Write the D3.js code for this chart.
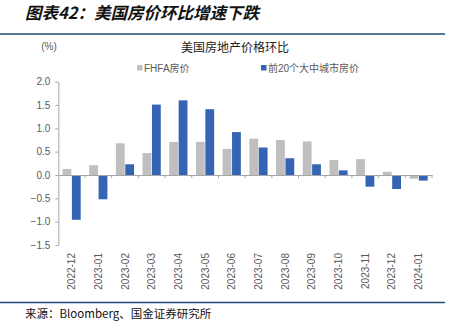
<!DOCTYPE html>
<html><head><meta charset="utf-8">
<script src="https://cdn.jsdelivr.net/npm/d3@7"></script>
<style>
html,body{margin:0;padding:0;background:#fff;}
svg{display:block;}
</style></head>
<body>
<svg id="c" width="458" height="331"></svg>
<script>
const categories = ["2022-12","2023-01","2023-02","2023-03","2023-04","2023-05","2023-06","2023-07","2023-08","2023-09","2023-10","2023-11","2023-12","2024-01"];
const fhfa = [0.13,0.21,0.68,0.47,0.71,0.71,0.56,0.78,0.75,0.72,0.32,0.34,0.07,-0.08];
const city20 = [-0.96,-0.52,0.23,1.51,1.60,1.41,0.92,0.59,0.36,0.23,0.10,-0.25,-0.30,-0.12];
const yTicks = [2.0,1.5,1.0,0.5,0.0,-0.5,-1.0,-1.5];
const seriesNames = ["FHFA房价","前20个大中城市房价"];

const svg = d3.select("#c");
const sansCJK = "'Noto Sans CJK SC', sans-serif";
const colors = ["#bfbfbf","#3564b4"];

// header
svg.append("text").attr("x",25).attr("y",19)
  .attr("font-family",sansCJK).attr("font-size",16.5).attr("font-weight","bold")
  .attr("font-style","italic").attr("fill","#111").text("图表42：美国房价环比增速下跌");
svg.append("line").attr("x1",0).attr("x2",445).attr("y1",34).attr("y2",34)
  .attr("stroke","#1f4e79").attr("stroke-width",1.5);
svg.append("line").attr("x1",0).attr("x2",445).attr("y1",302.5).attr("y2",302.5)
  .attr("stroke","#1f4e79").attr("stroke-width",1.5);
svg.append("text").attr("x",25).attr("y",318)
  .attr("font-family","'Noto Sans CJK SC', monospace").attr("font-size",11.5).attr("fill","#111")
  .text("来源：Bloomberg、国金证券研究所");

// chart title
svg.append("text").attr("x",235).attr("y",52).attr("text-anchor","middle")
  .attr("font-family",sansCJK).attr("font-size",12).attr("fill","#222").text("美国房地产价格环比");
svg.append("text").attr("x",49).attr("y",50).attr("text-anchor","middle")
  .attr("font-family","Arial, 'Liberation Sans', sans-serif").attr("font-size",10).attr("fill","#595959").text("(%)");

// legend
const legX = [137, 261];
seriesNames.forEach((n,i)=>{
  svg.append("rect").attr("x",legX[i]).attr("y",65).attr("width",5.5).attr("height",5.5).attr("fill",colors[i]);
  svg.append("text").attr("x",legX[i]+7).attr("y",71.5)
    .attr("font-family","Arial, 'Liberation Sans', "+sansCJK).attr("font-size",10).attr("fill","#595959").text(n);
});

// scales
const y = d3.scaleLinear().domain([-1.5,2.0]).range([245,81.7]);
const x0 = d3.scaleBand().domain(categories).range([58.3,432]).padding(0);
const x1 = d3.scaleBand().domain([0,1]).range([4.2,22.4]).paddingInner(0.06);

// y axis
const yAxis = d3.axisLeft(y).tickValues(yTicks).tickFormat(d3.format(".1f")).tickSize(3).tickSizeOuter(0);
const gy = svg.append("g").attr("transform","translate(58.3,0)").call(yAxis);
gy.select(".domain").attr("stroke","#a6a6a6");
gy.selectAll(".tick line").attr("stroke","#a6a6a6");
gy.selectAll(".tick text").attr("font-family","Arial, 'Liberation Sans', sans-serif").attr("font-size",10).attr("fill","#595959").attr("x",-8);

// bars
const data = categories.map((c,i)=>({c, v:[fhfa[i], city20[i]]}));
const g = svg.append("g");
data.forEach(d=>{
  d.v.forEach((v,k)=>{
    g.append("rect")
      .attr("x", x0(d.c)+x1(k))
      .attr("width", x1.bandwidth())
      .attr("y", y(Math.max(0,v)))
      .attr("height", Math.abs(y(v)-y(0)))
      .attr("fill", colors[k]);
  });
});

// x axis at zero
const xAxis = d3.axisBottom(x0).tickSize(0);
const gx = svg.append("g").attr("transform",`translate(0,${y(0)})`).call(xAxis);
gx.select(".domain").attr("stroke","#a6a6a6");
categories.forEach((c,i)=>{
  if(i===0) return;
  svg.append("line").attr("x1",x0(c)).attr("x2",x0(c)).attr("y1",y(0)).attr("y2",y(0)+3).attr("stroke","#a6a6a6");
});
svg.append("line").attr("x1",432).attr("x2",432).attr("y1",y(0)).attr("y2",y(0)+3).attr("stroke","#a6a6a6");
gx.selectAll(".tick text")
  .attr("font-family","Arial, 'Liberation Sans', sans-serif").attr("font-size",10).attr("fill","#595959")
  .attr("transform",`translate(0,${253-y(0)}) rotate(-90)`)
  .attr("text-anchor","end").attr("x",0).attr("y",0).attr("dy","0.35em");
</script>
</body></html>
